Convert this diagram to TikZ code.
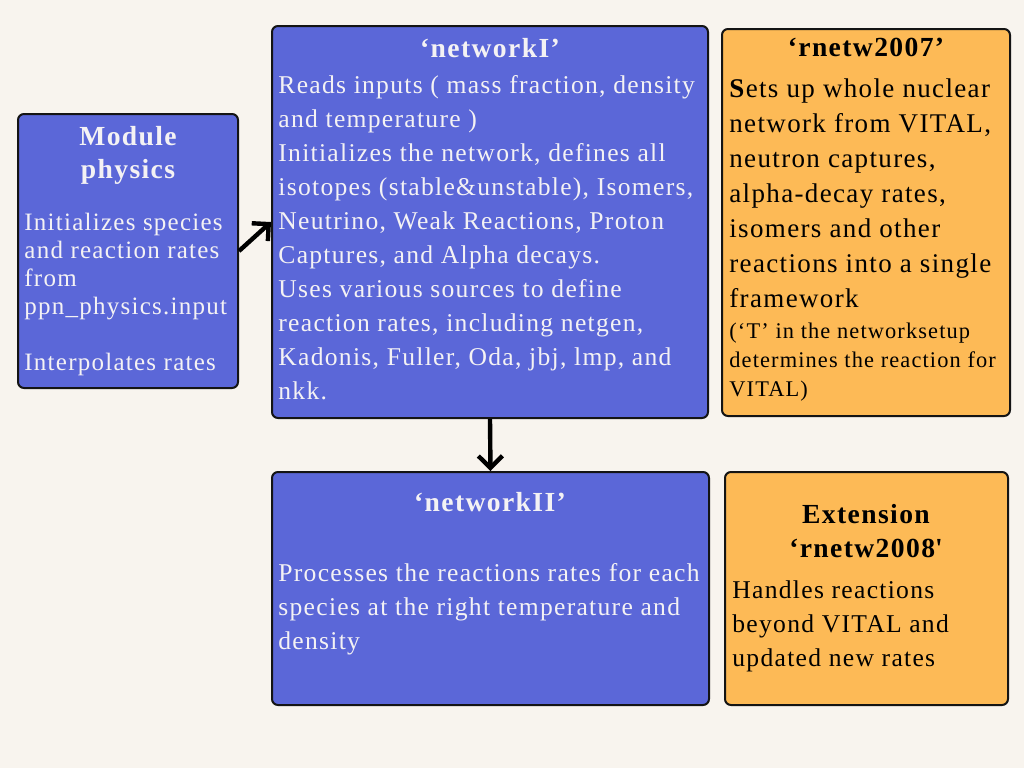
\documentclass[tikz,border=0pt]{standalone}
\usepackage{fontspec}
\setmainfont{Liberation Serif}[LetterSpace=5]
\usetikzlibrary{arrows.meta}
\definecolor{NWBlue}{HTML}{5B67D8}
\definecolor{NWOrange}{HTML}{FDBA56}
\definecolor{NWCream}{HTML}{F8F4EE}
\definecolor{NWLine}{HTML}{141414}
\definecolor{NWText}{HTML}{F4F2F4}

\begin{document}
\begin{tikzpicture}[x=0.5pt,y=-0.5pt,
  box/.style={draw=NWLine,line width=1pt,rounded corners=3pt,inner sep=0pt},
  bluebox/.style={box,fill=NWBlue},
  orangebox/.style={box,fill=NWOrange},
  head/.style={anchor=base,align=center,inner sep=0pt,font=\bfseries\fontsize{13.8}{16.5}\selectfont},
  body/.style={anchor=base west,align=left,inner sep=0pt,font=\fontsize{12.8}{17}\selectfont},
  link/.style={line width=2.2pt,-{Straight Barb[length=6pt,width=12pt,line width=2.2pt]}}]
\path[use as bounding box,fill=NWCream] (0,0) rectangle (1024,768);
\node[bluebox,minimum width=110pt,minimum height=137pt] (phys) at (128,251) {};
\node[bluebox,minimum width=218pt,minimum height=196pt] (netI) at (490,222) {};
\node[orangebox,minimum width=144pt,minimum height=193.5pt] (rn07) at (866,222.5) {};
\node[bluebox,minimum width=218.5pt,minimum height=116.5pt] (netII) at (490.5,588.5) {};
\node[orangebox,minimum width=141.5pt,minimum height=116.5pt] (ext) at (866.5,588.5) {};
\node[head,text=NWText] (phystitle) at (128,178) {Module\\physics};
\node[body,text=NWText,font=\fontsize{12.5}{14}\selectfont] (physbody) at (24,370)
  {Initializes species\\and reaction rates\\from\\ppn\_physics.input\\[14pt]Interpolates rates};
\node[head,text=NWText] (netItitle) at (490,57) {‘networkI’};
\node[body,text=NWText] (netIbody) at (278,399)
  {Reads inputs ( mass fraction, density\\and temperature )\\Initializes the network, defines all\\isotopes (stable\&unstable), Isomers,\\Neutrino, Weak Reactions, Proton\\Captures, and Alpha decays.\\Uses various sources to define\\reaction rates, including netgen,\\Kadonis, Fuller, Oda, jbj, lmp, and\\nkk.};
\node[head] (rn07title) at (866,56) {‘rnetw2007’};
\node[body,font=\fontsize{13.5}{17.5}\selectfont] (rn07body) at (729,307)
  {\textbf{S}ets up whole nuclear\\network from VITAL,\\neutron captures,\\alpha-decay rates,\\isomers and other\\reactions into a single\\framework};
\node[body,font=\fontsize{11.2}{14.5}\selectfont] (rn07note) at (729,396)
  {(‘T’ in the networksetup\\determines the reaction for\\VITAL)};
\node[head,text=NWText] (netIItitle) at (490,511) {‘networkII’};
\node[body,text=NWText] (netIIbody) at (278,649)
  {Processes the reactions rates for each\\species at the right temperature and\\density};
\node[head,font=\bfseries\fontsize{13.8}{17}\selectfont] (exttitle) at (866,557) {Extension\\‘rnetw2008\textquotesingle};
\node[body] (extbody) at (732,666)
  {Handles reactions\\beyond VITAL and\\updated new rates};
\draw[link] (phys.east) -- (netI.west);
\draw[link] (netI.south) -- (netII.north);
\end{tikzpicture}
\end{document}
